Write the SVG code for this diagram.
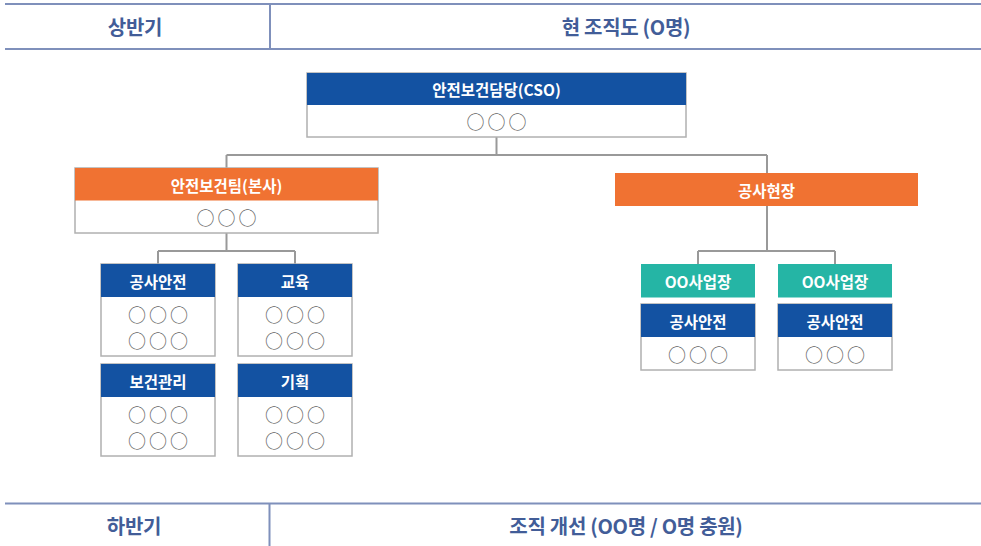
<svg xmlns="http://www.w3.org/2000/svg" width="981" height="546" viewBox="0 0 981 546">
<style>
text{font-family:"Noto Sans CJK KR","Noto Sans",sans-serif;text-anchor:middle;dominant-baseline:central}
.hd{font-size:20px;font-weight:700;fill:#425d98;letter-spacing:-0.3px}
.hl{stroke:#7f90bb;stroke-width:2;fill:none}
.wt{font-size:15.5px;font-weight:700;fill:#fff}
.ci{font-size:18px;fill:#666;letter-spacing:3px}
.box{fill:#fff;stroke:#b0b0b0;stroke-width:1.5}
.blue{fill:#1352a2}
.orange{fill:#f07232}
.teal{fill:#25b5a5}
.conn{stroke:#999;stroke-width:2;fill:none}
</style>
<rect width="981" height="546" fill="#fff"/>
<g id="header-top">
<path class="hl" d="M5 4H981M5 49H981M270 4V49"/>
<text class="hd" x="135" y="26">상반기</text>
<text class="hd" x="626" y="26">현 조직도 (O명)</text>
</g>
<g id="header-bottom">
<path class="hl" d="M5 503.5H981M269.5 503.5V546"/>
<text class="hd" x="134" y="525">하반기</text>
<text class="hd" x="626" y="525">조직 개선 (OO명 / O명 충원)</text>
</g>
<g id="connectors">
<path class="conn" d="M496.5 137V155M226.5 155H767M226.5 155V168M767 155V173"/>
<path class="conn" d="M226.5 233V251M158 251H295M158 251V264M295 251V264"/>
<path class="conn" d="M767 206V251M698 251H835M698 251V264M835 251V264"/>
</g>
<g id="cso">
<rect class="box" x="307" y="73" width="379" height="64"/>
<rect class="blue" x="307" y="73" width="379" height="32"/>
<text class="wt" x="496.5" y="89">안전보건담당(CSO)</text>
<text class="ci" x="498" y="121">○○○</text>
</g>
<g id="hq-team">
<rect class="box" x="75" y="168" width="303" height="65"/>
<rect class="orange" x="75" y="168" width="303" height="32.5"/>
<text class="wt" x="226.5" y="184.5">안전보건팀(본사)</text>
<text class="ci" x="228" y="217">○○○</text>
</g>
<g id="site">
<rect class="orange" x="615" y="173" width="303" height="33"/>
<text class="wt" x="766.5" y="189.5">공사현장</text>
</g>
<g id="construction-safety">
<rect class="box" x="101" y="264" width="114" height="92"/>
<rect class="blue" x="101" y="264" width="114" height="33"/>
<text class="wt" x="158" y="280.5">공사안전</text>
<text class="ci" x="159.5" y="314">○○○</text>
<text class="ci" x="159.5" y="340">○○○</text>
</g>
<g id="education">
<rect class="box" x="238" y="264" width="114" height="92"/>
<rect class="blue" x="238" y="264" width="114" height="33"/>
<text class="wt" x="295" y="280.5">교육</text>
<text class="ci" x="296.5" y="314">○○○</text>
<text class="ci" x="296.5" y="340">○○○</text>
</g>
<g id="health-management">
<rect class="box" x="101" y="364" width="114" height="92"/>
<rect class="blue" x="101" y="364" width="114" height="33"/>
<text class="wt" x="158" y="380.5">보건관리</text>
<text class="ci" x="159.5" y="414">○○○</text>
<text class="ci" x="159.5" y="440">○○○</text>
</g>
<g id="planning">
<rect class="box" x="238" y="364" width="114" height="92"/>
<rect class="blue" x="238" y="364" width="114" height="33"/>
<text class="wt" x="295" y="380.5">기획</text>
<text class="ci" x="296.5" y="414">○○○</text>
<text class="ci" x="296.5" y="440">○○○</text>
</g>
<g id="workplace-1">
<rect class="teal" x="641" y="264" width="114" height="33.5"/>
<text class="wt" x="698" y="281">OO사업장</text>
</g>
<g id="workplace-2">
<rect class="teal" x="778" y="264" width="114" height="33.5"/>
<text class="wt" x="835" y="281">OO사업장</text>
</g>
<g id="site-safety-1">
<rect class="box" x="641" y="304" width="114" height="66"/>
<rect class="blue" x="641" y="304" width="114" height="33"/>
<text class="wt" x="698" y="320.5">공사안전</text>
<text class="ci" x="699.5" y="353.5">○○○</text>
</g>
<g id="site-safety-2">
<rect class="box" x="778" y="304" width="114" height="66"/>
<rect class="blue" x="778" y="304" width="114" height="33"/>
<text class="wt" x="835" y="320.5">공사안전</text>
<text class="ci" x="836.5" y="353.5">○○○</text>
</g>
</svg>
